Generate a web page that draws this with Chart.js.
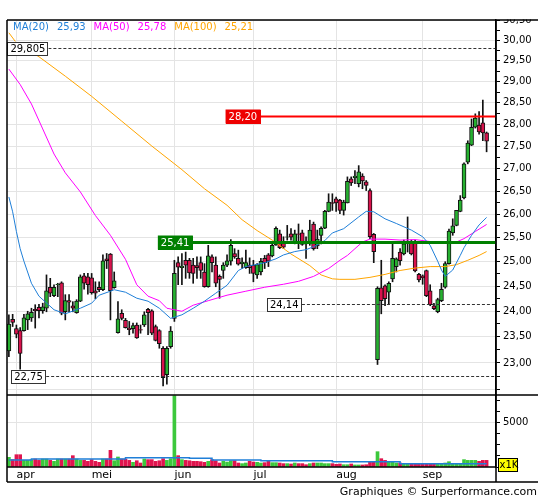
<!DOCTYPE html>
<html><head><meta charset="utf-8">
<script src="https://cdn.jsdelivr.net/npm/chart.js@4.4.1/dist/chart.umd.min.js"></script>
<style>html,body{margin:0;padding:0;background:#fff;}canvas{display:block;}</style>
</head><body>
<canvas id="c" width="545" height="500"></canvas>
<script>
// ---- data ----
const opens = [23.23,23.84,23.66,23.62,23.62,23.83,23.87,24.04,24.08,24.01,24.06,24.48,24.31,24.53,24.57,23.99,24.21,24.11,23.97,24.20,24.71,24.69,24.67,24.41,24.48,24.43,25.06,25.16,24.47,23.58,23.96,23.82,23.67,23.66,23.73,23.64,23.73,24.04,24.01,23.70,23.62,23.28,22.78,23.31,23.86,24.98,24.88,25.03,25.03,24.93,24.92,24.98,24.79,24.49,25.10,24.93,24.70,24.82,24.93,25.01,25.17,25.07,24.96,24.88,24.93,24.93,24.73,24.79,25.07,25.14,25.12,25.35,25.58,25.40,25.51,25.58,25.40,25.58,25.60,25.41,25.40,25.79,25.33,25.55,25.70,26.06,26.25,26.33,26.30,26.08,26.24,26.77,26.79,26.66,26.83,26.70,26.51,25.57,23.06,24.47,24.51,24.38,24.65,24.90,25.20,25.16,25.40,25.39,25.41,24.74,24.71,24.82,24.41,24.11,23.99,24.21,24.48,24.96,25.60,25.76,26.06,26.35,27.14,27.52,27.93,27.98,28.03,27.80];
const highs = [23.93,23.94,23.73,23.68,23.94,24.00,24.06,24.13,24.14,24.16,24.73,24.66,24.53,24.56,24.59,24.33,24.33,24.19,24.23,24.73,24.76,24.76,24.76,24.59,24.59,25.14,25.17,25.17,24.79,24.19,24.03,23.86,23.80,23.77,23.77,23.73,23.99,24.06,24.03,23.73,23.64,23.31,23.31,23.70,25.03,25.10,25.17,25.20,25.07,25.07,25.10,25.10,24.96,25.34,25.14,25.10,24.73,24.98,25.14,25.46,25.27,25.24,25.08,25.24,25.08,25.03,24.96,25.07,25.13,25.17,25.37,25.73,25.66,25.52,25.76,25.69,25.66,25.79,25.66,25.52,25.87,25.83,25.66,25.73,26.08,26.44,26.44,26.37,26.32,26.30,26.81,26.81,26.95,27.06,26.88,26.73,26.55,25.59,24.49,25.03,24.53,24.59,25.37,25.08,25.27,25.45,25.94,25.45,25.45,24.76,24.73,24.83,24.53,24.16,24.26,24.56,25.00,25.68,25.90,26.08,26.40,27.12,27.62,28.12,28.24,28.29,28.56,27.82];
const lows = [23.12,23.70,23.48,22.80,23.61,23.64,23.80,23.67,23.87,23.96,23.99,24.29,24.29,24.29,23.93,23.83,23.99,23.99,23.96,24.19,24.44,24.34,24.34,24.25,24.39,24.41,24.86,23.83,24.46,23.57,23.83,23.67,23.54,23.57,23.47,23.57,23.70,23.54,23.54,23.42,23.28,22.57,22.60,23.28,23.80,24.53,24.53,24.66,24.66,24.56,24.66,24.66,24.48,24.48,24.79,24.49,24.26,24.66,24.90,24.93,25.07,24.93,24.86,24.86,24.76,24.59,24.66,24.73,24.86,24.90,25.10,25.34,25.27,25.27,25.45,25.45,25.37,25.27,25.34,25.07,25.34,25.24,25.27,25.37,25.69,26.05,26.08,26.06,26.01,25.98,26.24,26.62,26.66,26.59,26.55,26.51,25.48,24.98,22.97,23.95,24.11,24.13,24.59,24.79,24.93,25.14,25.20,25.14,24.79,24.59,24.54,24.29,24.11,24.03,23.97,24.19,24.46,24.95,25.55,25.75,26.05,26.33,27.10,27.51,27.91,27.77,27.62,27.37];
const closes = [23.75,23.78,23.55,23.18,23.87,23.95,23.98,24.01,24.01,24.09,24.41,24.36,24.48,24.54,23.96,24.21,24.18,24.06,24.20,24.69,24.56,24.53,24.37,24.36,24.43,25.02,25.02,24.41,24.61,23.85,23.86,23.68,23.64,23.72,23.48,23.63,23.93,23.97,23.57,23.43,23.37,22.72,23.28,23.61,24.76,24.89,24.91,24.93,24.77,24.76,24.88,24.82,24.49,25.12,24.98,24.56,24.64,24.93,25.02,25.34,25.10,24.95,24.99,24.98,24.88,24.76,24.94,25.01,24.98,25.01,25.34,25.70,25.29,25.30,25.52,25.51,25.58,25.57,25.36,25.37,25.66,25.27,25.47,25.70,26.06,26.26,26.23,26.24,26.08,26.26,26.71,26.68,26.83,26.92,26.72,26.62,25.52,25.21,24.46,24.21,24.25,24.56,25.07,25.06,25.02,25.37,25.42,25.16,24.81,24.63,24.67,24.31,24.13,24.05,24.23,24.44,24.96,25.64,25.75,26.08,26.30,27.10,27.57,27.93,28.14,27.82,27.80,27.61];
const volumes = [1090,830,1390,1390,750,750,830,900,750,900,900,750,640,900,900,900,900,1280,900,750,750,640,830,640,530,900,900,1880,710,1130,900,900,750,530,710,450,900,830,830,640,710,940,750,940,8050,1280,830,750,710,640,640,600,530,640,830,710,450,640,560,710,710,450,380,450,640,560,530,450,490,640,490,490,450,380,380,340,450,380,380,260,380,450,450,450,380,380,380,300,340,260,260,340,230,230,230,260,530,530,1730,940,750,640,640,450,450,340,300,340,300,340,340,340,300,300,300,380,450,600,380,380,380,830,750,750,750,640,750,750];
// volume average (stepped): segment start index and level
const volAvgStart = [0,6,31,48,54,67,86,104];
const volAvgLevel = [790,900,1050,980,790,710,600,360];
// moving averages read at sample candles
const ma20Idx = [0,1,2,3,4,6,8,12,15,19,22,24,27,28,31,34,37,40,43,46,49,52,55,58,61,63,65,68,71,73,76,79,81,84,86,89,93,95,97,100,103,107,110,112,114,115,116,118,120,121,123,125,127];
const ma20Val = [26.37,26.05,25.63,25.27,25.01,24.56,24.30,24.03,23.95,24.06,24.16,24.32,24.40,24.43,24.38,24.26,24.20,24.06,23.86,23.93,24.06,24.20,24.36,24.52,24.82,24.90,24.93,24.98,25.06,25.14,25.21,25.25,25.31,25.44,25.60,25.69,25.94,26.06,26.05,25.90,25.80,25.66,25.52,25.34,25.01,24.83,24.70,24.83,25.13,25.29,25.55,25.77,25.93];
const ma50Idx = [0,3,6,9,12,15,19,23,27,31,34,37,40,42,46,49,53,58,63,68,73,77,81,85,88,90,92,94,96,100,104,108,112,116,119,121,124,127];
const ma50Val = [29.30,28.93,28.47,27.89,27.32,26.90,26.48,25.97,25.55,25.05,24.53,24.30,24.21,24.06,24.00,24.12,24.21,24.32,24.40,24.48,24.54,24.60,24.70,24.86,25.03,25.13,25.27,25.41,25.47,25.47,25.45,25.46,25.42,25.41,25.41,25.48,25.63,25.78];
const ma100Idx = [0,2,8,15,22,30,38,46,52,58,62,66,70,75,80,83,86,88,92,96,100,104,108,112,116,119,122,125,127];
const ma100Val = [30.19,29.94,29.60,29.13,28.65,28.07,27.50,26.97,26.55,26.19,25.88,25.65,25.45,25.16,24.92,24.73,24.65,24.64,24.64,24.68,24.74,24.82,24.87,24.90,24.90,24.94,25.03,25.13,25.21];
const maNames = ['MA(20)','MA(50)','MA(100)'];
const maLast = ['25,93','25,78','25,21'];
// horizontal levels
const levelValues = [29.805, 28.20, 25.41, 24.14, 22.75];
const levelTexts = ['29,805','28,20','25,41','24,14','22,75'];
const levelStartIdx = [0, 58, 40, 69, 1];
// axes
const monthNames = ['apr','mei','jun','jul','aug','sep'];
const monthStartIdx = [2,22,44,65,87,110];
const categoryCount = 130;
const priceTicks = [22.50,22.75,23.00,23.25,23.50,23.75,24.00,24.25,24.50,24.75,25.00,25.25,25.50,25.75,26.00,26.25,26.50,26.75,27.00,27.25,27.50,27.75,28.00,28.25,28.50,28.75,29.00,29.25,29.50,29.75,30.00,30.25,30.50];
const priceLabelled = [23.00,23.50,24.00,24.50,25.00,25.50,26.00,26.50,27.00,27.50,28.00,28.50,29.00,29.50,30.00,30.50];
const volTicks = [0,1250,2500,3750,5000,6250,7500];
const volLabelTick = 5000;

// ---- build ----
const FONT = 'DejaVu Sans';
const GREEN = '#26b030', RED = '#d8124c', VGREEN = '#3cc83c', VRED = '#e0144e';
const labels = [];
for (let i = 0; i < categoryCount; i++) {
  const m = monthStartIdx.indexOf(i);
  labels.push(m >= 0 ? monthNames[m] : '');
}
const up = opens.map((o, i) => closes[i] >= o);
const wickData = lows.map((l, i) => [l, highs[i]]);
const bodyData = opens.map((o, i) => [o, closes[i]]);
function sparse(idx, val) {
  const a = new Array(categoryCount).fill(null);
  idx.forEach((k, j) => { a[k] = val[j]; });
  return a;
}
const volAvg = volumes.map((v, i) => {
  let lvl = volAvgLevel[0];
  volAvgStart.forEach((s, j) => { if (i >= s) lvl = volAvgLevel[j]; });
  return lvl;
});
const fmt2 = v => v.toFixed(2).replace('.', ',');
const isMajor = v => Math.abs(v * 2 - Math.round(v * 2)) < 1e-6;
const isLabelled = v => priceLabelled.some(p => Math.abs(p - v) < 1e-6);

const overlay = {
  id: 'overlay',
  afterDatasetsDraw(chart) {
    const ctx = chart.ctx, xs = chart.scales.x, ys = chart.scales.y, ca = chart.chartArea;
    ctx.save();
    ctx.font = '10px "' + FONT + '"';
    ctx.textBaseline = 'middle';
    levelValues.forEach((v, i) => {
      const y = Math.round(ys.getPixelForValue(v)) + 0.5;
      const x0 = xs.getPixelForValue(levelStartIdx[i]) - 1.5;
      const w = Math.ceil(ctx.measureText(levelTexts[i]).width) + 6;
      const h = 14;
      ctx.beginPath();
      if (i === 1) { ctx.strokeStyle = '#ff0000'; ctx.lineWidth = 2; ctx.setLineDash([]); }
      else if (i === 2) { ctx.strokeStyle = '#008000'; ctx.lineWidth = 3; ctx.setLineDash([]); }
      else { ctx.strokeStyle = '#333'; ctx.lineWidth = 1; ctx.setLineDash([3, 2]); }
      ctx.moveTo(x0 + w, y); ctx.lineTo(ca.right, y); ctx.stroke();
      ctx.setLineDash([]);
      let fill = '#fff', txt = '#000', stroke = '#333';
      if (i === 1) { fill = '#ee0000'; txt = '#fff'; stroke = '#ee0000'; }
      if (i === 2) { fill = '#008000'; txt = '#fff'; stroke = '#008000'; }
      ctx.fillStyle = fill;
      ctx.fillRect(x0, y - h / 2, w, h);
      ctx.lineWidth = 1; ctx.strokeStyle = stroke;
      ctx.strokeRect(Math.round(x0) + 0.5, Math.round(y - h / 2) + 0.5, w - 1, h - 1);
      ctx.fillStyle = txt; ctx.textAlign = 'left';
      ctx.fillText(levelTexts[i], x0 + 3, y + 0.5);
    });
    ctx.restore();
  },
  afterDraw(chart) {
    const ctx = chart.ctx, ca = chart.chartArea, vs = chart.scales.v;
    ctx.save();
    // mask clipped top label
    ctx.fillStyle = '#fff';
    ctx.fillRect(ca.right + 1, 0, 60, ca.top - 0.5);
    // frame
    ctx.strokeStyle = '#000'; ctx.lineWidth = 1.5;
    const sep = vs.top, bot = ca.bottom + 15;
    ctx.beginPath();
    ctx.moveTo(ca.left, ca.top); ctx.lineTo(538, ca.top);
    ctx.moveTo(ca.left, ca.top); ctx.lineTo(ca.left, bot);
    ctx.moveTo(ca.left, sep); ctx.lineTo(538, sep);
    ctx.moveTo(ca.left, ca.bottom); ctx.lineTo(ca.right, ca.bottom);
    ctx.moveTo(ca.left, bot); ctx.lineTo(538, bot);
    ctx.moveTo(ca.right, ca.top); ctx.lineTo(ca.right, bot);
    ctx.stroke();
    // legend of moving averages
    ctx.font = '10px "' + FONT + '"';
    ctx.textBaseline = 'middle'; ctx.textAlign = 'left';
    const cols = ['#1f7fd8', '#ff00ff', '#ffa500'];
    let x = 13;
    maNames.forEach((n, i) => {
      ctx.fillStyle = cols[i];
      ctx.fillText(n, x, 27); x += ctx.measureText(n).width + 8;
      ctx.fillText(maLast[i], x, 27); x += ctx.measureText(maLast[i]).width + 8;
    });
    // x1K box
    ctx.fillStyle = '#ffff00';
    ctx.fillRect(498, 458, 20, 14);
    ctx.lineWidth = 1; ctx.strokeStyle = '#000';
    ctx.strokeRect(498.5, 458.5, 19, 13);
    ctx.fillStyle = '#000';
    ctx.fillText('x1K', 499.5, 465.5);
    // credit
    ctx.textAlign = 'right';
    ctx.font = '11px "' + FONT + '"';
    ctx.fillText('Graphiques \u00a9 Surperformance.com', 537, 492);
    ctx.restore();
  }
};

new Chart(document.getElementById('c'), {
  data: {
    labels: labels,
    datasets: [
      { type: 'line', label: 'MA20', data: sparse(ma20Idx, ma20Val), yAxisID: 'y', borderColor: '#1f7fd8', borderWidth: 1, pointRadius: 0, spanGaps: true, order: 0 },
      { type: 'line', label: 'MA50', data: sparse(ma50Idx, ma50Val), yAxisID: 'y', borderColor: '#ff00ff', borderWidth: 1, pointRadius: 0, spanGaps: true, order: 0 },
      { type: 'line', label: 'MA100', data: sparse(ma100Idx, ma100Val), yAxisID: 'y', borderColor: '#ffa500', borderWidth: 1, pointRadius: 0, spanGaps: true, order: 0 },
      { type: 'bar', label: 'body', data: bodyData, yAxisID: 'y', grouped: false, barThickness: 4, backgroundColor: up.map(u => u ? GREEN : RED), borderColor: '#111', borderWidth: 1, borderSkipped: false, order: 1 },
      { type: 'bar', label: 'wick', data: wickData, yAxisID: 'y', grouped: false, barThickness: 1, backgroundColor: '#111', borderWidth: 0, order: 2 },
      { type: 'line', label: 'volAvg', data: volAvg, yAxisID: 'v', borderColor: '#1f7fd8', borderWidth: 1.5, pointRadius: 0, stepped: true, order: 0 },
      { type: 'bar', label: 'vol', data: volumes, yAxisID: 'v', grouped: false, barThickness: 3, backgroundColor: up.map(u => u ? VGREEN : VRED), borderWidth: 0, order: 3 }
    ]
  },
  options: {
    responsive: false, animation: false, devicePixelRatio: 1,
    layout: { padding: { left: 7, top: 20, right: 0, bottom: 18 } },
    plugins: { legend: { display: false }, tooltip: { enabled: false } },
    scales: {
      x: {
        type: 'category', offset: true,
        grid: { offset: false, drawTicks: false, color: c => monthStartIdx.includes(c.index) ? '#e4e4e4' : 'rgba(0,0,0,0)' },
        border: { display: false },
        ticks: { autoSkip: false, maxRotation: 0, minRotation: 0, align: 'start', padding: 2, color: '#000', font: { family: FONT, size: 11 } },
        afterFit: s => { s.height = 15; }
      },
      y: {
        type: 'logarithmic', position: 'right', stack: 'p', stackWeight: 375, min: 22.44, max: 30.51,
        afterBuildTicks: s => { s.ticks = priceTicks.map(v => ({ value: v })); },
        afterFit: s => { s.width = 49; },
        ticks: { autoSkip: false, padding: 3, color: '#000', font: { family: FONT, size: 10 }, callback: v => isLabelled(v) ? fmt2(v) : '' },
        grid: { color: c => (c.tick && isMajor(c.tick.value)) ? '#e4e4e4' : 'rgba(0,0,0,0)', tickColor: '#000', tickLength: 4, drawTicks: true },
        border: { display: true, color: '#000', width: 1.5 }
      },
      v: {
        type: 'linear', position: 'right', stack: 'p', stackWeight: 72, min: 0, max: 8130,
        afterBuildTicks: s => { s.ticks = volTicks.map(v => ({ value: v })); },
        afterFit: s => { s.width = 49; },
        ticks: { autoSkip: false, padding: 3, color: '#000', font: { family: FONT, size: 10 }, callback: v => v === volLabelTick ? String(v) : '' },
        grid: { color: c => (c.tick && c.tick.value === volLabelTick) ? '#e4e4e4' : 'rgba(0,0,0,0)', tickColor: '#000', tickLength: 4, drawTicks: true },
        border: { display: true, color: '#000', width: 1.5 }
      }
    }
  },
  plugins: [overlay]
});
</script>
</body></html>
